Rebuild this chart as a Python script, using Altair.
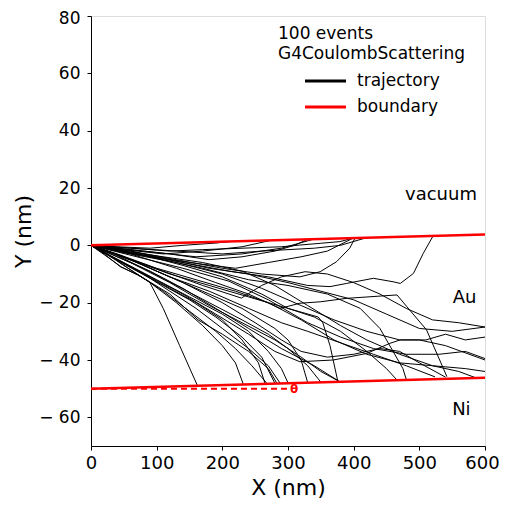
import altair as alt
import pandas as pd

# ---- trajectory data (x, y in nm) ----
trajectories = [
    # shallow ones that leave through the top surface
    [(0,0),(40,-0.5),(90,-1),(140,0),(190,0.8),(215,1.4)],
    [(0,0),(50,-1.5),(110,-3),(170,-2),(230,-0.5),(275,1.8)],
    [(0,0),(60,-1),(120,-2),(170,-1.5),(230,-1),(290,-0.5),(318,0.1),(349,0.7),(379,1.3),(399,2.5)],
    [(0,0),(70,-3),(150,-6),(220,-8),(270,-6),(320,-4),(360,-2),(399,2.5)],
    [(0,0),(60,-2),(130,-5),(200,-8),(260,-10),(318,-11),(349,-9.2),(374,-5.7),(394,-1),(402,2.5)],
    [(0,0),(60,-1),(130,-2),(200,-3),(260,-2),(300,-1.5),(340,-1),(380,0),(420,2.7)],
    [(0,0),(80,-2),(160,-4),(230,-3),(290,-1),(340,2.2)],
    [(0,0),(60,-1.5),(120,-3),(180,-5),(230,-4),(280,-2),(310,0),(330,2.1)],
    [(0,0),(70,-3),(140,-6),(210,-9),(270,-11),(330,-14),(364,-14.4),(389,-13.3),(430,-11.5),(460,-12.7),(471,-13.3),(491,-9.8),(506,-2.8),(521,3.3)],
    # middle group
    [(0,0),(60,-3),(130,-8),(190,-13),(240,-17),(288,-22),(318,-20.2),(349,-19.7),(389,-18.5),(466,-17.3),(481,-21.4),(511,-29.5),(542,-45.8)],
    [(0,0),(50,-4),(110,-9),(170,-14),(229,-18.4),(260,-14),(290,-11),(326,-9.2),(360,-10),(400,-13),(440,-17),(480,-22),(520,-26),(560,-27),(600,-28.5)],
    [(0,0),(60,-3),(130,-6),(200,-10),(260,-15),(320,-21),(370,-26),(420,-30),(470,-33),(510,-33),(540,-31),(570,-33),(600,-32)],
    [(0,0),(70,-4),(140,-8),(210,-12.5),(270,-19),(330,-27),(380,-32),(430,-36),(480,-38),(530,-38),(570,-37),(600,-39.5)],
    [(0,0),(40,-3),(100,-8),(160,-12),(220,-16),(270,-20),(320,-26),(370,-33),(420,-38),(470,-41),(520,-42),(570,-43),(600,-44)],
    [(0,0),(40,-5),(90,-11),(140,-17),(190,-24),(240,-31),(280,-37),(318,-40.6),(369,-40),(420,-37.7),(455,-34.2),(471,-33),(500,-33),(540,-35),(600,-40)],
    [(0,0),(60,-5),(120,-11),(180,-16),(240,-22),(290,-27),(330,-30),(380,-34),(430,-38),(480,-42),(524,-45.9)],
    [(0,0),(60,-5),(120,-10),(180,-14),(240,-18),(300,-22),(340,-25),(380,-30),(420,-37),(450,-43),(466,-47)],
    [(0,0),(50,-2),(110,-4),(170,-6),(230,-9),(280,-14),(330,-21),(380,-28),(420,-33),(470,-38),(520,-42),(560,-44),(587,-46.3)],
    [(0,0),(70,-6),(140,-13),(200,-20),(250,-27),(290,-33),(320,-37),(360,-39),(400,-38),(440,-36),(470,-37),(500,-41),(540,-46)],
    [(0,0),(50,-2),(110,-5),(170,-8),(240,-12),(300,-14),(360,-17),(410,-22),(440,-29),(460,-37),(475,-43),(480,-46.7)],
    [(0,0),(60,-2),(120,-5),(180,-8),(240,-10),(300,-13),(350,-16),(400,-19),(450,-24),(500,-29),(550,-30),(600,-28.5)],
    [(0,0),(40,-2),(90,-4),(140,-7),(200,-11),(260,-17),(300,-22),(346,-25),(353,-27),(364,-35),(376,-47.6)],
    # steep ones that reach the Ni interface early
    [(0,0),(20,-3),(45,-7.5),(72,-10.4),(89,-12.7),(110,-22),(135,-35),(162,-48.9)],
    [(0,0),(25,-3),(50,-7),(90,-13),(130,-20),(170,-28),(200,-35),(220,-41),(232,-48.5)],
    [(0,0),(30,-4),(70,-10),(110,-16),(150,-23),(190,-30),(220,-36),(245,-42),(268,-48.2)],
    [(0,0),(40,-5),(80,-10),(120,-16),(160,-22),(200,-29),(240,-36),(270,-42),(288,-48.1)],
    [(0,0),(30,-4),(70,-9),(110,-14),(150,-19),(190,-25),(230,-32),(260,-39),(280,-48.1)],
    [(0,0),(50,-6),(100,-12),(150,-18),(200,-24),(240,-30),(270,-37),(290,-43),(300,-48)],
    [(0,0),(40,-4),(90,-9),(140,-15),(190,-22),(240,-29),(290,-36),(340,-42),(379,-47.6)],
    [(0,0),(60,-6),(120,-13),(180,-21),(230,-27),(280,-33),(320,-39),(350,-44),(379,-47.6)],
    [(0,0),(50,-4),(110,-10),(170,-16),(230,-22),(280,-29),(300,-33),(320,-40),(330,-47.9)],
    [(0,0),(40,-5),(80,-10),(120,-15),(160,-20),(200,-26),(230,-33),(255,-41),(265,-48.2)],
    [(0,0),(35,-3),(80,-8),(130,-14),(180,-20),(230,-26),(270,-31),(300,-36),(330,-42),(350,-47.7)],
    [(0,0),(21,-3.4),(46,-7.5),(72,-10.4),(89,-12.7),(120,-17),(163,-26),(200,-31),(240,-37),(270,-43),(283,-48.1)],
]

boundary_names = ["top", "top", "bottom", "bottom"]
boundary_x = [0, 600, 0, 600]
boundary_y = [0, 3.8, -50, -46.2]

dash_x = [0, 300]
dash_y = [-50, -50]

region_labels = ["vacuum", "Au", "Ni"]
region_x = [533, 569, 564]
region_y = [17.5, -18.5, -57.5]

legend_header = ["100 events", "G4CoulombScattering"]
legend_labels = ["trajectory", "boundary"]
legend_colors = ["black", "#ff0000"]

x_ticks = [0, 100, 200, 300, 400, 500, 600]
y_ticks = [-60, -40, -20, 0, 20, 40, 60, 80]

rows = []
for i, tr in enumerate(trajectories):
    for j, (x, y) in enumerate(tr):
        rows.append({"id": i, "k": j, "x": x, "y": y})
traj_df = pd.DataFrame(rows)
bnd_df = pd.DataFrame({"name": boundary_names, "x": boundary_x, "y": boundary_y})
dash_df = pd.DataFrame({"x": dash_x, "y": dash_y})
lab_df = pd.DataFrame({"t": region_labels, "x": region_x, "y": region_y})
theta_df = pd.DataFrame({"t": ["θ"], "x": [303], "y": [-50]})

FONT = "DejaVu Sans"
xs = alt.Scale(domain=[0, 600], nice=False, zero=False)
ys = alt.Scale(domain=[-70, 80], nice=False, zero=False)
minus_expr = "datum.value < 0 ? '\u2212 ' + format(-datum.value, 'd') : format(datum.value, 'd')"

xax = alt.Axis(values=x_ticks, title="X (nm)", grid=False, labelFontSize=18, titleFontSize=22,
               labelFont=FONT, titleFont=FONT, titleFontWeight="normal", domainColor="black",
               tickColor="black", tickSize=4, labelColor="black", titleColor="black",
               labelPadding=4, titlePadding=5, labelFlush=False,
               labelOffset={"condition": {"test": "datum.value === 600", "value": -3}, "value": 0})
yax = alt.Axis(values=y_ticks, title="Y (nm)", grid=False, labelFontSize=17, titleFontSize=22,
               labelFont=FONT, titleFont=FONT, titleFontWeight="normal", domainColor="black",
               tickColor="black", tickSize=4, labelColor="black", titleColor="black",
               labelPadding=7, titlePadding=3, labelExpr=minus_expr, labelFlush=False,
               labelOffset={"condition": {"test": "datum.value === 80", "value": 2}, "value": 0})

traj = alt.Chart(traj_df).mark_line(color="black", strokeWidth=1, clip=True).encode(
    x=alt.X("x:Q", scale=xs, axis=xax),
    y=alt.Y("y:Q", scale=ys, axis=yax),
    detail="id:N",
    order="k:Q",
)

bnd = alt.Chart(bnd_df).mark_line(color="#ff0000", strokeWidth=2.5).encode(
    x=alt.X("x:Q", scale=xs), y=alt.Y("y:Q", scale=ys), detail="name:N"
)

dash = alt.Chart(dash_df).mark_line(color="#ff0000", strokeWidth=2, strokeDash=[6, 4]).encode(
    x=alt.X("x:Q", scale=xs), y=alt.Y("y:Q", scale=ys)
)

theta = alt.Chart(theta_df).mark_text(color="#ff0000", fontSize=12, fontWeight="bold", font=FONT,
                                      align="left", baseline="middle").encode(
    x=alt.X("x:Q", scale=xs), y=alt.Y("y:Q", scale=ys), text="t:N"
)

labels = alt.Chart(lab_df).mark_text(color="black", fontSize=18, font=FONT, align="center",
                                     baseline="middle").encode(
    x=alt.X("x:Q", scale=xs), y=alt.Y("y:Q", scale=ys), text="t:N"
)

# legend block (drawn in pixel space of the plot area)
def text_at(txt, px, py):
    return alt.Chart(pd.DataFrame({"t": [txt]})).mark_text(
        align="left", baseline="middle", fontSize=17, font=FONT, color="black"
    ).encode(x=alt.value(px), y=alt.value(py), text="t:N")

def line_at(col, py):
    return alt.Chart(pd.DataFrame({"c": [col]})).mark_rule(strokeWidth=3, color=col).encode(
        x=alt.value(214), x2=alt.value(255), y=alt.value(py)
    )

legend_layers = [
    text_at(legend_header[0], 187, 18),
    text_at(legend_header[1], 187, 38),
    line_at(legend_colors[0], 65),
    text_at(legend_labels[0], 266, 65),
    line_at(legend_colors[1], 91),
    text_at(legend_labels[1], 266, 91),
]

chart = alt.layer(traj, bnd, dash, theta, labels, *legend_layers).properties(
    width=394, height=430,
    autosize=alt.AutoSizeParams(type="none"),
    padding={"left": 83, "top": 8, "right": 14, "bottom": 52},
).configure_view(stroke="black", strokeWidth=1).configure(background="white")

chart.save("out.html", embed_options={"renderer": "svg", "actions": False})
